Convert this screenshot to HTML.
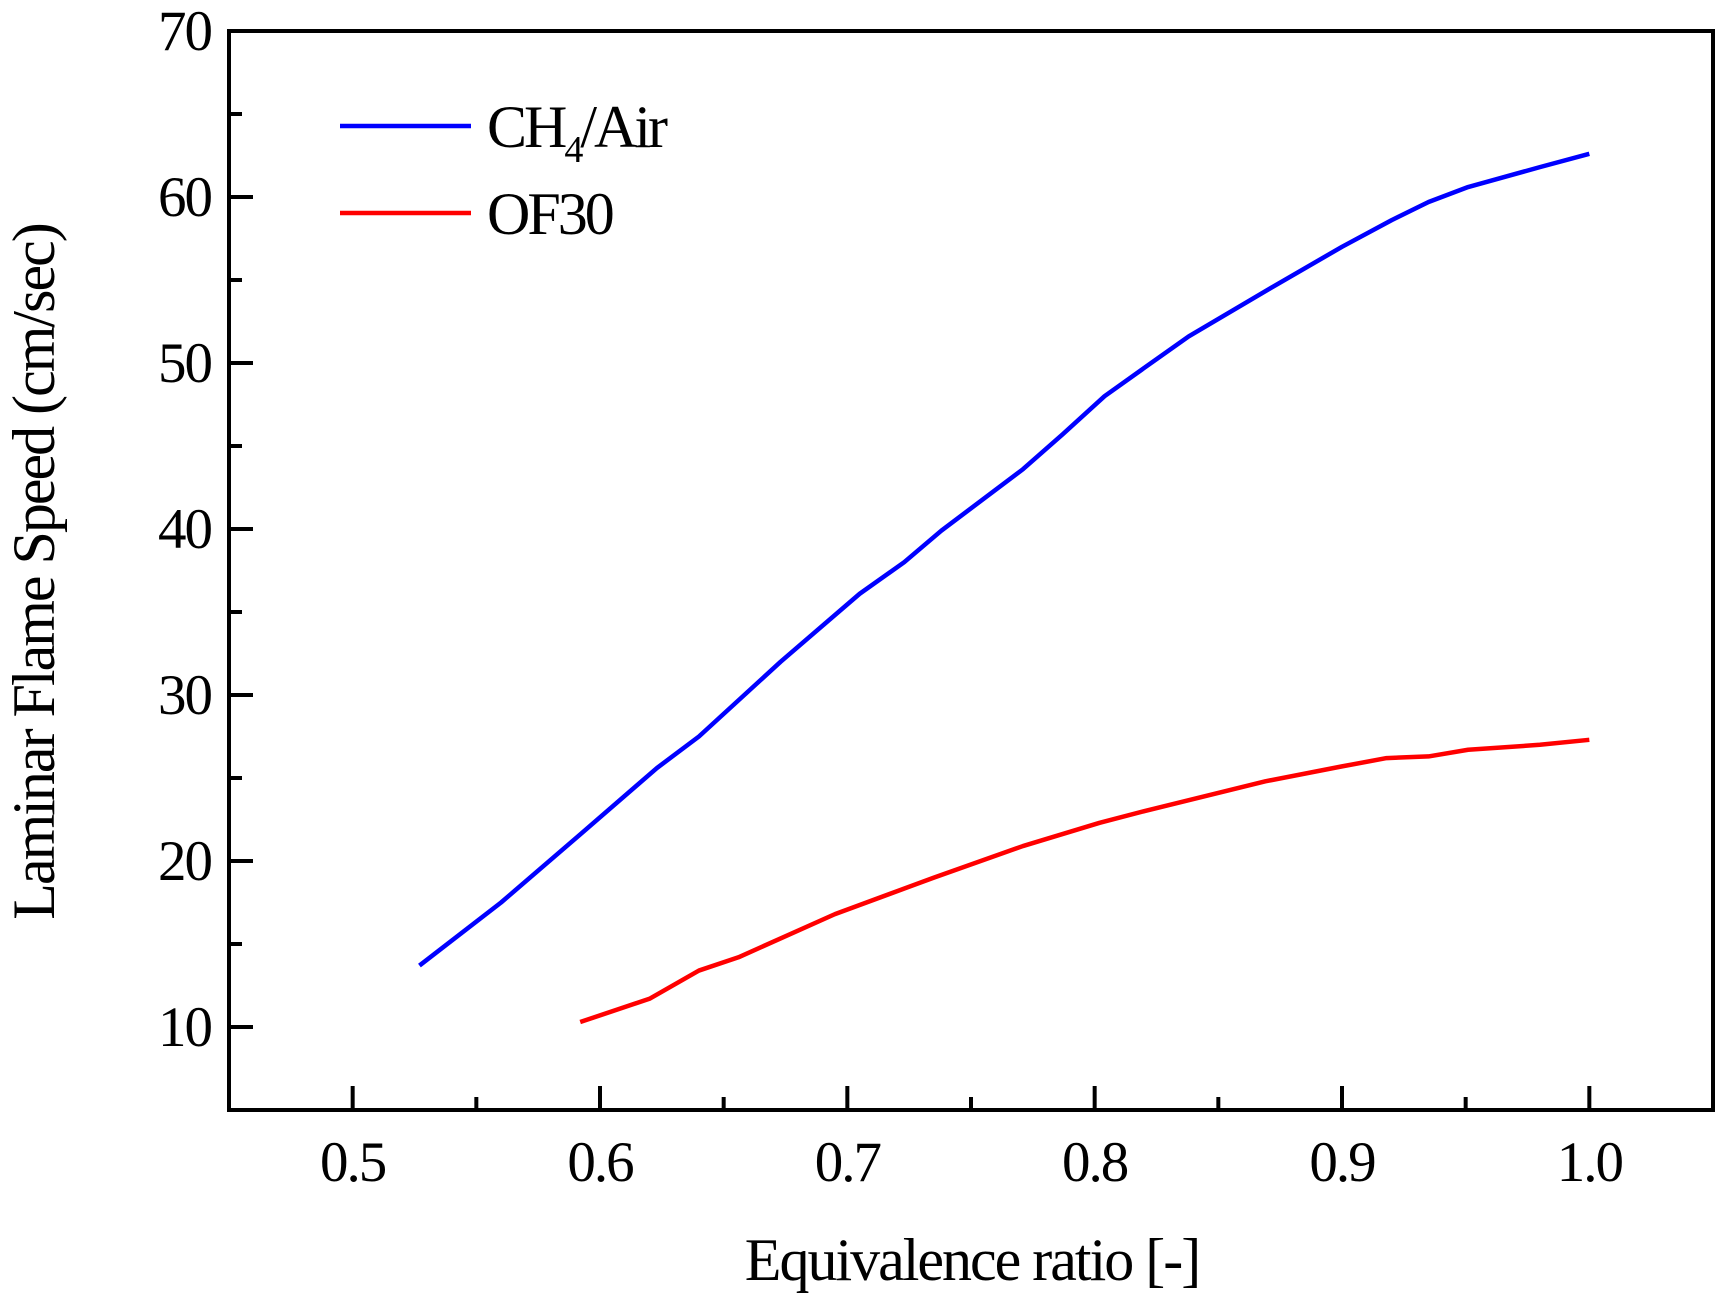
<!DOCTYPE html>
<html><head><meta charset="utf-8"><style>
html,body{margin:0;padding:0;background:#fff;}
svg{display:block;font-family:"Liberation Serif",serif;}
</style></head><body>
<svg id="chart" width="1724" height="1302" viewBox="0 0 1724 1302" xmlns="http://www.w3.org/2000/svg">
<g id="axes"></g>
<g id="series"></g>
<g id="legend">
  <line x1="340" y1="126" x2="471" y2="126" stroke="#0000ff" stroke-width="4.5"/>
  <text x="487" y="147" font-size="60" letter-spacing="-3">CH<tspan font-size="38" dy="15">4</tspan><tspan dy="-15">/Air</tspan></text>
  <line x1="340" y1="213" x2="471" y2="213" stroke="#ff0000" stroke-width="4.5"/>
  <text x="487" y="234" font-size="60" letter-spacing="-3">OF30</text>
</g>
<text x="972" y="1280" font-size="60" text-anchor="middle" letter-spacing="-2">Equivalence ratio [-]</text>
<text transform="translate(54,572) rotate(-90)" font-size="60" text-anchor="middle" letter-spacing="-2">Laminar Flame Speed (cm/sec)</text>
</svg>
<script>
const xTicks = [0.5, 0.6, 0.7, 0.8, 0.9, 1.0];
const xTickLabels = ["0.5", "0.6", "0.7", "0.8", "0.9", "1.0"];
const yTicks = [10, 20, 30, 40, 50, 60, 70];
const yTickLabels = ["10", "20", "30", "40", "50", "60", "70"];
const ch4X = [0.527,0.56,0.592,0.623,0.64,0.673,0.705,0.723,0.738,0.771,0.787,0.804,0.82,0.838,0.871,0.9,0.92,0.935,0.951,0.98,1.0];
const ch4Y = [13.7,17.5,21.6,25.6,27.5,32.0,36.1,38.0,39.9,43.6,45.7,48.0,49.7,51.6,54.5,57.0,58.6,59.7,60.6,61.8,62.6];
const of30X = [0.592,0.62,0.64,0.656,0.695,0.735,0.771,0.802,0.82,0.869,0.9,0.918,0.935,0.951,0.98,1.0];
const of30Y = [10.3,11.7,13.4,14.2,16.8,19.0,20.9,22.3,23.0,24.8,25.7,26.2,26.3,26.7,27.0,27.3];

const L=229,R=1713,T=31,B=1110;
const xMin=0.45,xMax=1.05,yMin=5,yMax=70;
const sx=v=>L+(v-xMin)/(xMax-xMin)*(R-L);
const sy=v=>B-(v-yMin)/(yMax-yMin)*(B-T);
const NS="http://www.w3.org/2000/svg";
const axes=document.getElementById('axes');
const series=document.getElementById('series');
function mk(tag,attrs,parent){const e=document.createElementNS(NS,tag);for(const k in attrs)e.setAttribute(k,attrs[k]);parent.appendChild(e);return e;}

const frame=mk('rect',{x:L,y:T,width:R-L,height:B-T,fill:'none',stroke:'#000','stroke-width':4},axes);



xTicks.forEach((v,i)=>{
  const t=mk('line',{x1:sx(v),x2:sx(v),y1:B,y2:B-24,stroke:'#000','stroke-width':4},axes);
  
  
  const m=mk('line',{x1:sx(v+0.05),x2:sx(v+0.05),y1:B,y2:B-13,stroke:'#000','stroke-width':4},axes);
  
  
  const lb=mk('text',{x:sx(v),y:1181,'font-size':57,'text-anchor':'middle','letter-spacing':'-2'},axes);
  lb.textContent=xTickLabels[i];
  
  
});
yTicks.forEach((v,i)=>{
  const t=mk('line',{x1:L,x2:L+24,y1:sy(v),y2:sy(v),stroke:'#000','stroke-width':4},axes);
  
  
  if(v<70){const m=mk('line',{x1:L,x2:L+13,y1:sy(v+5),y2:sy(v+5),stroke:'#000','stroke-width':4},axes);
  
  }
  const lb=mk('text',{x:211,y:sy(v)+19,'font-size':57,'text-anchor':'end','letter-spacing':'-2'},axes);
  lb.textContent=yTickLabels[i];
  
  
});
function line(xs,ys,color,name){
  const p=mk('polyline',{points:xs.map((x,i)=>sx(x)+','+sy(ys[i])).join(' '),fill:'none',stroke:color,'stroke-width':4.5,'stroke-linejoin':'round'},series);
  
  
}
line(ch4X,ch4Y,'#0000ff','ch4-air-line');
line(of30X,of30Y,'#ff0000','of30-line');
</script>
</body></html>
